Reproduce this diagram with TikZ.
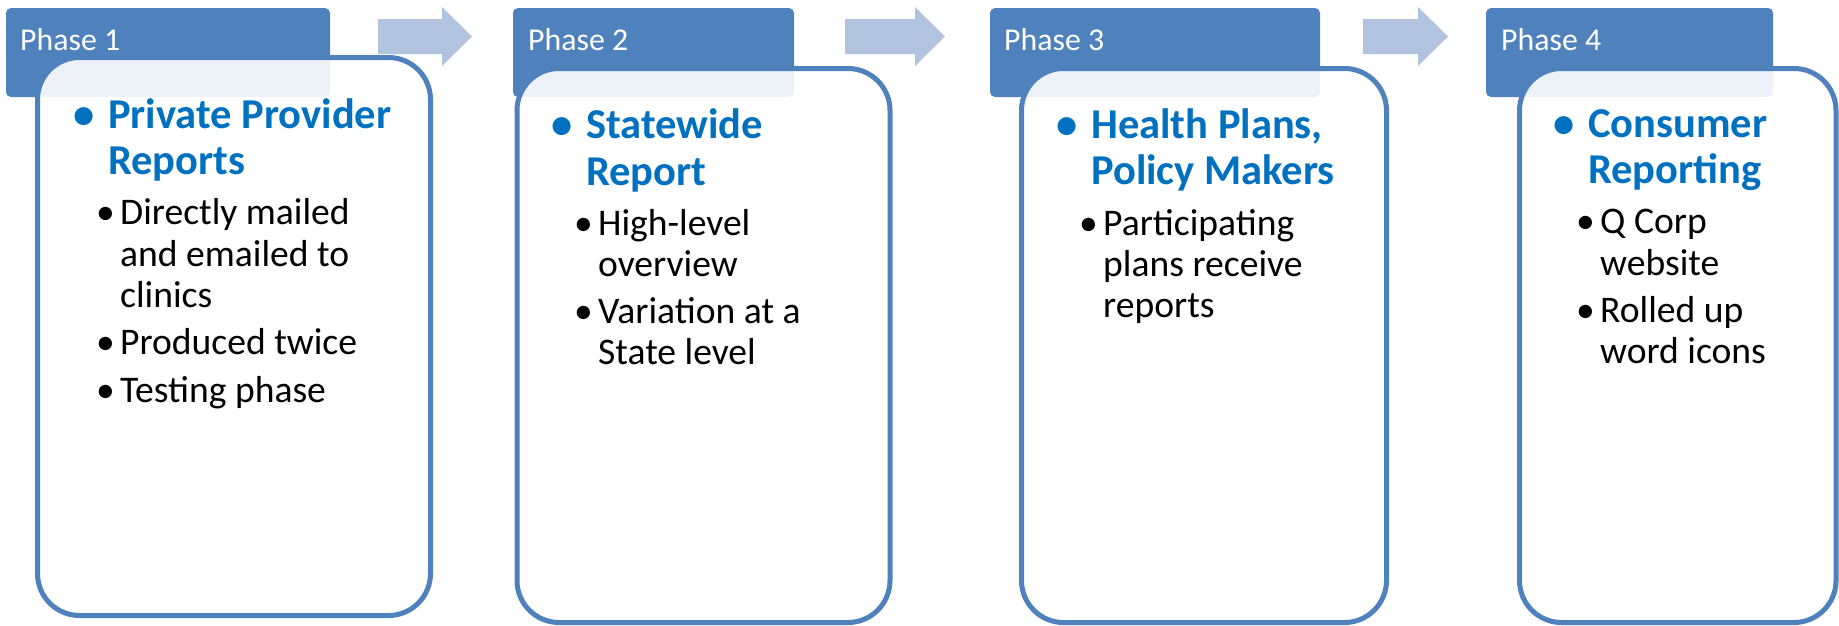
\documentclass[tikz,border=0pt]{standalone}
\usepackage{fontspec}
\setmainfont{Carlito}
\definecolor{accent}{HTML}{4F81BD}
\definecolor{arrowfill}{HTML}{B1C3DE}
\definecolor{headblue}{HTML}{0070C0}
\tikzset{
  tabbox/.style={fill=accent, rounded corners=5pt},
  phasebox/.style={draw=accent, line width=5pt, fill=white, fill opacity=0.9, rounded corners=42pt},
  blockarrow/.style={fill=arrowfill},
  tablabel/.style={anchor=base west, inner sep=0pt, text=white, font=\fontsize{31.8}{37}\selectfont},
  headline/.style={anchor=base west, inner sep=0pt, text=headblue, font=\fontsize{42.5}{46}\selectfont\bfseries},
  subline/.style={anchor=base west, inner sep=0pt, text=black, font=\fontsize{37.6}{42}\selectfont},
}
\begin{document}
\begin{tikzpicture}[x=1pt,y=-1pt]
\useasboundingbox (0,0) rectangle (1839,625);
% ---------- arrows
\fill[blockarrow] (378,19) -- (442,19) -- (442,7) -- (472,36.5) -- (442,66) -- (442,54) -- (378,54) -- cycle;
\fill[blockarrow] (845,19) -- (915,19) -- (915,7) -- (945,36.5) -- (915,66) -- (915,54) -- (845,54) -- cycle;
\fill[blockarrow] (1363,19) -- (1418,19) -- (1418,7) -- (1448,36.5) -- (1418,66) -- (1418,54) -- (1363,54) -- cycle;
% ---------- Phase 1
\fill[tabbox] (6,8) rectangle (330,97);
\node[tablabel] (t1) at (20,50) {Phase 1};
\draw[phasebox] (37.5,57.5) rectangle (430.5,615.5);
\node[headline] (b1) at (73,128) {•};
\node[headline] (h1a) at (108,128) {Private Provider};
\node[headline] (h1b) at (108,174) {Reports};
\node[subline] (d1a) at (96,224) {•};
\node[subline] (s1a) at (120,224) {Directly mailed};
\node[subline] (s1b) at (120,266) {and emailed to};
\node[subline] (s1c) at (120,307) {clinics};
\node[subline] (d1b) at (96,354) {•};
\node[subline] (s1d) at (120,354) {Produced twice};
\node[subline] (d1c) at (96,402) {•};
\node[subline] (s1e) at (120,402) {Testing phase};
% ---------- Phase 2
\fill[tabbox] (513,8) rectangle (794,97);
\node[tablabel] (t2) at (528,50) {Phase 2};
\draw[phasebox] (517,68.5) rectangle (890,622.5);
\node[headline] (b2) at (551,138) {•};
\node[headline] (h2a) at (586,138) {Statewide};
\node[headline] (h2b) at (586,185) {Report};
\node[subline] (d2a) at (574,235) {•};
\node[subline] (s2a) at (598,235) {High-level};
\node[subline] (s2b) at (598,276) {overview};
\node[subline] (d2b) at (574,323) {•};
\node[subline] (s2c) at (598,323) {Variation at a};
\node[subline] (s2d) at (598,364) {State level};
% ---------- Phase 3
\fill[tabbox] (990,8) rectangle (1320,97);
\node[tablabel] (t3) at (1004,50) {Phase 3};
\draw[phasebox] (1021.5,68.5) rectangle (1386.5,622.5);
\node[headline] (b3) at (1056,138) {•};
\node[headline] (h3a) at (1091,138) {Health Plans,};
\node[headline] (h3b) at (1091,184) {Policy Makers};
\node[subline] (d3a) at (1079,235) {•};
\node[subline] (s3a) at (1103,235) {Participating};
\node[subline] (s3b) at (1103,276) {plans receive};
\node[subline] (s3c) at (1103,317) {reports};
% ---------- Phase 4
\fill[tabbox] (1486,8) rectangle (1773,97);
\node[tablabel] (t4) at (1501,50) {Phase 4};
\draw[phasebox] (1519.5,68.5) rectangle (1836,622.5);
\node[headline] (b4) at (1553,137) {•};
\node[headline] (h4a) at (1588,137) {Consumer};
\node[headline] (h4b) at (1588,183) {Reporting};
\node[subline] (d4a) at (1576,233) {•};
\node[subline] (s4a) at (1600,233) {Q Corp};
\node[subline] (s4b) at (1600,275) {website};
\node[subline] (d4b) at (1576,322) {•};
\node[subline] (s4c) at (1600,322) {Rolled up};
\node[subline] (s4d) at (1600,363) {word icons};
\end{tikzpicture}
\end{document}
